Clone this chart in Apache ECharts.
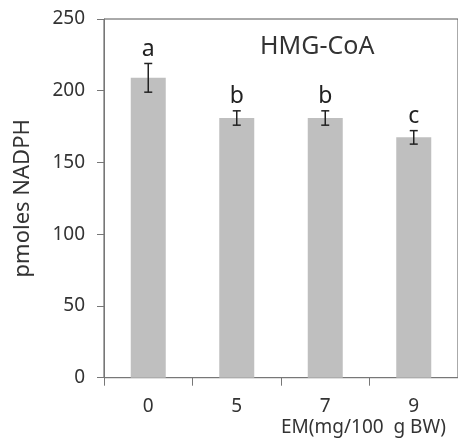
<!DOCTYPE html>
<html><head><meta charset="utf-8">
<script src="https://cdn.jsdelivr.net/npm/echarts@6/dist/echarts.min.js"></script>
<style>html,body{margin:0;padding:0;background:#fff}#c{width:458px;height:441px}</style>
</head><body><div id="c"></div>
<script>
var categories = ['0', '5', '7', '9'];
var means = [209, 181, 181, 167.5];
var errors = [10, 5, 5, 4.7];
var letters = ['a', 'b', 'b', 'c'];
var yTicks = [0, 50, 100, 150, 200, 250];
var chartTitle = 'HMG-CoA';
var yName = 'pmoles NADPH';
var xName = 'EM(mg/100  g BW)';

var FONT = '"Noto Sans", "Open Sans", sans-serif';
var chart = echarts.init(document.getElementById('c'));
var errData = means.map(function (m, i) { return [i, m - errors[i], m + errors[i], letters[i]]; });

chart.setOption({
  animation: false,
  title: {
    text: chartTitle, left: 255, top: 29,
    textStyle: { fontFamily: FONT, fontSize: 25, fontWeight: 'normal', color: '#333' }
  },
  grid: { left: 104, top: 19, width: 356, height: 358.7, show: true, borderColor: '#555', borderWidth: 1, backgroundColor: 'transparent' },
  graphic: [{
    type: 'text', left: 281, top: 418,
    style: { text: xName, font: '19px ' + FONT, fill: '#333' }
  }],
  xAxis: {
    type: 'category', data: categories,
    axisLine: { lineStyle: { color: '#777', width: 1 } },
    axisTick: { show: true, length: 8, lineStyle: { color: '#777' } },
    axisLabel: { margin: 19, fontFamily: FONT, fontSize: 19, color: '#333' }
  },
  yAxis: {
    type: 'value', min: yTicks[0], max: yTicks[yTicks.length - 1], interval: 50,
    name: yName, nameLocation: 'middle', nameGap: 70, nameRotate: 90,
    nameTextStyle: { fontFamily: FONT, fontSize: 22, color: '#333' },
    axisLine: { show: true, lineStyle: { color: '#777', width: 1 } },
    axisTick: { show: true, length: 7, lineStyle: { color: '#777' } },
    splitLine: { show: false },
    axisLabel: { margin: 19, fontFamily: FONT, fontSize: 19, color: '#333' }
  },
  series: [{
    type: 'bar', data: means, barWidth: 35,
    itemStyle: { color: '#bfbfbf' }
  }, {
    type: 'custom', data: errData,
    renderItem: function (params, api) {
      var x = api.value(0);
      var lo = api.coord([x, api.value(1)]);
      var hi = api.coord([x, api.value(2)]);
      var hw = 4;
      var st = { stroke: '#222', lineWidth: 1.5 };
      return {
        type: 'group', children: [
          { type: 'line', shape: { x1: lo[0], y1: lo[1], x2: hi[0], y2: hi[1] }, style: st },
          { type: 'line', shape: { x1: lo[0] - hw, y1: lo[1], x2: lo[0] + hw, y2: lo[1] }, style: st },
          { type: 'line', shape: { x1: hi[0] - hw, y1: hi[1], x2: hi[0] + hw, y2: hi[1] }, style: st },
          { type: 'text', x: hi[0], y: hi[1] - 3, style: { text: api.value(3), font: '23px ' + FONT, fill: '#222', align: 'center', verticalAlign: 'bottom' } }
        ]
      };
    },
    z: 10
  }]
});
</script></body></html>
